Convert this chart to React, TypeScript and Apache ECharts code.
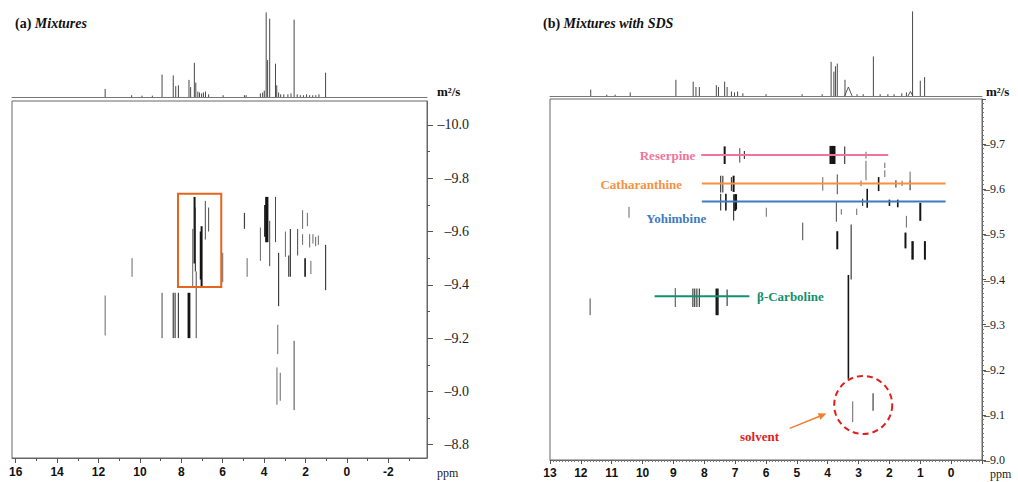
import { useEffect, useRef } from "react";
import * as echarts from "echarts";

const SERIF = '"Liberation Serif", "Times New Roman", serif';
const SANS = '"Liberation Sans", Arial, sans-serif';

// ---- 1H projections: [ppm, relative intensity] ----
const specA: [number, number][] = [
  [11.68, 9], [10.4, 2], [9.9, 1.5], [9.4, 1.5], [8.93, 25], [8.39, 24], [8.27, 12], [8.14, 13],
  [7.63, 19], [7.55, 11], [7.37, 38], [7.3, 16], [7.2, 6], [7.12, 5], [7.02, 4], [6.93, 5],
  [6.83, 6], [6.68, 3], [5.98, 2], [4.95, 2], [4.87, 2], [4.18, 4], [4.07, 5], [3.99, 7],
  [3.9, 94], [3.83, 41], [3.73, 87], [3.45, 37], [3.39, 13], [3.3, 5], [3.2, 3], [3.05, 3],
  [2.85, 3], [2.7, 4], [2.55, 86], [2.4, 3], [2.25, 2], [2.1, 2], [1.95, 3], [1.8, 2],
  [1.65, 2], [1.5, 2], [1.35, 3], [1.03, 27],
];
const specB: [number, number][] = [
  [11.68, 7], [10.4, 4], [11.16, 1.5], [10.89, 1.5], [8.92, 18], [8.36, 16], [8.27, 10], [8.16, 10],
  [7.61, 12], [7.54, 10], [7.34, 16], [7.26, 10], [7.12, 5], [7.02, 4], [6.92, 5], [6.75, 3],
  [6.0, 2], [4.83, 2], [4.18, 2], [3.89, 38], [3.8, 27], [3.75, 33], [3.69, 36], [3.44, 18],
  [3.05, 2], [2.85, 2], [2.52, 44], [2.3, 2], [2.05, 2], [1.85, 2], [1.6, 3], [1.45, 4],
  [1.25, 94], [1.0, 17], [0.86, 21],
];
// broad humps: [ppm, height, half width in ppm]
const humpsB: [number, number, number][] = [[3.33, 10, 0.12], [1.32, 5, 0.08]];

// ---- DOSY cross peaks: [ppm, logD from, logD to, line weight] ----
const dosyA: [number, number, number, number][] = [
  [11.68, -9.36, -9.21, 1], [10.38, -9.5, -9.43, 1], [8.93, -9.37, -9.2, 1.2],
  [8.39, -9.37, -9.2, 1.5], [8.3, -9.37, -9.2, 1.5], [8.14, -9.37, -9.2, 1.5],
  [7.66, -9.37, -9.2, 2], [7.6, -9.37, -9.2, 2], [7.28, -9.45, -9.2, 1.2],
  [7.45, -9.61, -9.39, 1], [7.36, -9.73, -9.48, 2.5], [7.32, -9.69, -9.45, 1.5],
  [7.07, -9.6, -9.42, 2], [7.02, -9.62, -9.39, 2.5], [6.84, -9.715, -9.57, 1.2],
  [6.68, -9.69, -9.6, 1.2], [6.0, -9.52, -9.41, 1], [4.95, -9.67, -9.61, 1.5],
  [4.82, -9.5, -9.43, 1], [4.18, -9.615, -9.49, 1], [3.96, -9.7, -9.58, 2],
  [3.9, -9.73, -9.56, 2.5], [3.84, -9.73, -9.56, 2.5], [3.73, -9.64, -9.47, 1.2],
  [3.45, -9.73, -9.56, 1.2], [3.3, -9.52, -9.32, 1.5], [3.34, -9.25, -9.14, 1],
  [3.38, -9.09, -8.95, 1], [3.22, -9.07, -8.965, 1], [2.55, -9.19, -8.93, 1.2],
  [2.97, -9.6, -9.505, 1], [2.81, -9.51, -9.43, 1.5], [2.73, -9.61, -9.43, 1.5],
  [2.38, -9.61, -9.51, 1.2], [2.14, -9.68, -9.61, 1], [2.14, -9.59, -9.55, 1],
  [2.02, -9.5, -9.43, 2], [1.91, -9.67, -9.62, 1], [1.8, -9.59, -9.54, 1],
  [1.74, -9.49, -9.44, 1], [1.64, -9.59, -9.555, 1], [1.51, -9.58, -9.545, 1],
  [1.38, -9.585, -9.55, 1], [1.03, -9.55, -9.38, 1.5],
];
const dosyB: [number, number, number, number][] = [
  [11.7, -9.358, -9.321, 1.2], [10.44, -9.561, -9.537, 1],
  [8.94, -9.381, -9.339, 1.2], [8.37, -9.38, -9.339, 1.5], [8.31, -9.38, -9.339, 1.5],
  [8.24, -9.38, -9.339, 1.5], [8.16, -9.38, -9.339, 1.5], [7.61, -9.38, -9.321, 2],
  [7.56, -9.38, -9.321, 2], [7.26, -9.378, -9.341, 1.5],
  [7.34, -9.695, -9.656, 2.5], [6.85, -9.691, -9.659, 1.2], [6.7, -9.685, -9.667, 1.5],
  [3.91, -9.696, -9.656, 2.5], [3.86, -9.696, -9.656, 2.5], [3.82, -9.696, -9.656, 2.5],
  [3.78, -9.696, -9.656, 2.5], [3.45, -9.695, -9.656, 1.5], [2.76, -9.683, -9.668, 1],
  [2.76, -9.663, -9.62, 1], [2.15, -9.659, -9.647, 1], [2.15, -9.642, -9.627, 1],
  [1.33, -9.639, -9.62, 1],
  [7.47, -9.63, -9.593, 1.5], [7.4, -9.63, -9.593, 1.5], [7.12, -9.627, -9.596, 1.5],
  [7.05, -9.63, -9.594, 2.5], [4.16, -9.627, -9.597, 1], [3.69, -9.633, -9.589, 1.2],
  [2.92, -9.619, -9.607, 1], [2.35, -9.627, -9.596, 2], [1.79, -9.62, -9.604, 1.5],
  [1.59, -9.619, -9.607, 1], [1.33, -9.62, -9.598, 1.5],
  [7.47, -9.59, -9.553, 1.5], [7.3, -9.59, -9.553, 2], [7.05, -9.589, -9.531, 1.5],
  [7.0, -9.589, -9.552, 2.5], [6.97, -9.589, -9.555, 2.5], [5.99, -9.559, -9.539, 1],
  [3.72, -9.573, -9.528, 1.2], [3.56, -9.556, -9.544, 1], [3.06, -9.557, -9.543, 1],
  [2.87, -9.579, -9.563, 1.5], [2.72, -9.601, -9.559, 2], [2.0, -9.577, -9.563, 2],
  [1.73, -9.577, -9.56, 2], [1.0, -9.57, -9.53, 2.5],
  [4.81, -9.526, -9.487, 1.2], [1.45, -9.541, -9.515, 1], [3.69, -9.507, -9.467, 2.5],
  [1.48, -9.504, -9.469, 2.5], [1.25, -9.485, -9.444, 3], [0.85, -9.485, -9.444, 2.5],
  [3.24, -9.522, -9.4, 1.5], [3.33, -9.41, -9.18, 2],
  [3.19, -9.13, -9.084, 1], [2.53, -9.148, -9.109, 1.5],
];

// ---- axis ticks ----
const ticksAX = [16, 14, 12, 10, 8, 6, 4, 2, 0, -2];
const minorAX = [15, 13, 11, 9, 7, 5, 3, 1, -1, -3];
const ticksAY = [-10.0, -9.8, -9.6, -9.4, -9.2, -9.0, -8.8];
const minorAY = [-9.9, -9.7, -9.5, -9.3, -9.1, -8.9];
const labelsBX = [13, 12, 11, 10, 9, 8, 7, 6, 5, 4, 3, 2, 1, 0];
const labelsBY = [-9.7, -9.6, -9.5, -9.4, -9.3, -9.2, -9.1, -9.0];

// ---- compound assignments (right panel) ----
const compounds = [
  { name: "Reserpine", logD: -9.676, from: 8.1, to: 2.04, color: "#f0749c", lx: 8.29, ly: -9.674, align: "right" },
  { name: "Catharanthine", logD: -9.613, from: 8.08, to: 0.18, color: "#f7913f", lx: 8.72, ly: -9.611, align: "right" },
  { name: "Yohimbine", logD: -9.573, from: 8.08, to: 0.18, color: "#3f7bbf", lx: 8.91, ly: -9.536, align: "center" },
  { name: "β-Carboline", logD: -9.363, from: 9.61, to: 6.54, color: "#13906e", lx: 6.29, ly: -9.362, align: "left" },
];

// solvent annotation: circle centre, label, arrow
const solventCircle: [number, number] = [2.85, -9.122];
const solventLabel: [number, number] = [6.21, -9.053];
const solventArrow: [number, number, number, number] = [5.23, -9.07, 4.04, -9.103];

// highlighted region on left panel
const boxA: [number, number, number, number] = [8.16, -9.742, 6.07, -9.392];

const dashFmt = (v: number) => (Number(v) < 0 ? "\u2013" : "") + Math.abs(Number(v)).toFixed(1);

function segSeries(data: number[][], xi: number, yi: number) {
  return {
    type: "custom",
    xAxisIndex: xi,
    yAxisIndex: yi,
    silent: true,
    data,
    renderItem: (_p: any, api: any) => {
      const a = api.coord([api.value(0), api.value(1)]);
      const b = api.coord([api.value(0), api.value(2)]);
      const w = api.value(3);
      return {
        type: "line",
        shape: { x1: a[0], y1: a[1], x2: b[0], y2: b[1] },
        style: { stroke: w >= 2 ? "#151515" : "#404040", lineWidth: w * 0.8, lineCap: "butt" },
      };
    },
  };
}

function stickSeries(data: number[][], xi: number, yi: number) {
  return {
    type: "custom",
    xAxisIndex: xi,
    yAxisIndex: yi,
    silent: true,
    data,
    renderItem: (_p: any, api: any) => {
      const a = api.coord([api.value(0), 0]);
      const b = api.coord([api.value(0), api.value(1)]);
      return {
        type: "line",
        shape: { x1: a[0], y1: a[1], x2: b[0], y2: b[1] },
        style: { stroke: "#333", lineWidth: 0.9 },
      };
    },
  };
}

function humpSeries(data: number[][], xi: number, yi: number) {
  return {
    type: "custom",
    xAxisIndex: xi,
    yAxisIndex: yi,
    silent: true,
    data,
    renderItem: (_p: any, api: any) => {
      const p = api.value(0), h = api.value(1), w = api.value(2);
      const l = api.coord([p + w, 0]);
      const m = api.coord([p, h]);
      const r = api.coord([p - w, 0]);
      return {
        type: "polyline",
        shape: { points: [l, m, r] },
        style: { stroke: "#444", lineWidth: 0.9, fill: "none" },
      };
    },
  };
}

export default function App() {
  const ref = useRef<HTMLDivElement>(null);

  useEffect(() => {
    if (!ref.current) return;
    const chart = echarts.init(ref.current, undefined, { renderer: "svg" });

    const gridBase = { show: false, outerBoundsMode: "none", containLabel: false };
    const hiddenAxis = { show: false, onZero: false };
    const option: any = {
      animation: false,
      backgroundColor: "#fff",
      grid: [
        { ...gridBase, left: 12, top: 7, width: 415, height: 90 },
        { ...gridBase, show: true, borderColor: "#666", borderWidth: 1, left: 12, top: 101, width: 415, height: 357 },
        { ...gridBase, left: 550, top: 6, width: 432, height: 90 },
        { ...gridBase, show: true, borderColor: "#666", borderWidth: 1, left: 550, top: 99, width: 432, height: 361 },
      ],
      xAxis: [
        {
          gridIndex: 0, type: "value", inverse: true, min: -3.87, max: 16.18,
          axisLine: { show: true, onZero: false, lineStyle: { color: "#777", width: 1 } },
          axisTick: { show: false }, axisLabel: { show: false }, splitLine: { show: false },
        },
        {
          gridIndex: 1, type: "value", inverse: true, min: -3.87, max: 16.18, position: "bottom",
          axisLine: { show: true, onZero: false, lineStyle: { color: "#666" } },
          axisTick: { show: true, customValues: ticksAX, length: 5, lineStyle: { color: "#555" } },
          axisLabel: {
            customValues: ticksAX, margin: 8, fontFamily: SANS, fontWeight: "bold", fontSize: 12, color: "#111",
            formatter: (v: number) => String(v),
          },
          splitLine: { show: false },
        },
        {
          gridIndex: 1, type: "value", inverse: true, min: -3.87, max: 16.18, position: "bottom",
          axisLine: hiddenAxis,
          axisTick: { show: true, customValues: minorAX, length: 3, lineStyle: { color: "#555" } },
          axisLabel: { show: false }, splitLine: { show: false },
        },
        {
          gridIndex: 2, type: "value", inverse: true, min: -1, max: 13,
          axisLine: { show: true, onZero: false, lineStyle: { color: "#777", width: 1 } },
          axisTick: { show: false }, axisLabel: { show: false }, splitLine: { show: false },
        },
        {
          gridIndex: 3, type: "value", inverse: true, min: -1, max: 13, interval: 1, position: "bottom",
          axisLine: { show: true, onZero: false, lineStyle: { color: "#666" } },
          axisTick: { show: true, length: 4, lineStyle: { color: "#555" } },
          minorTick: { show: true, splitNumber: 10, length: 2, lineStyle: { color: "#777" } },
          axisLabel: {
            customValues: labelsBX, margin: 7, fontFamily: SANS, fontWeight: "bold", fontSize: 12, color: "#111",
            formatter: (v: number) => String(Math.round(v)),
          },
          splitLine: { show: false },
        },
      ],
      yAxis: [
        { gridIndex: 0, type: "value", min: 0, max: 100, show: false },
        {
          gridIndex: 1, type: "value", inverse: true, min: -10.09, max: -8.75, position: "right",
          axisLine: { show: true, onZero: false, lineStyle: { color: "#666" } },
          axisTick: { show: true, customValues: ticksAY, length: 6, lineStyle: { color: "#555" } },
          axisLabel: {
            customValues: ticksAY, margin: 42, align: "right", fontFamily: SERIF, fontSize: 14, color: "#222",
            formatter: dashFmt,
          },
          splitLine: { show: false },
        },
        {
          gridIndex: 1, type: "value", inverse: true, min: -10.09, max: -8.75, position: "right",
          axisLine: hiddenAxis,
          axisTick: { show: true, customValues: minorAY, length: 3, lineStyle: { color: "#555" } },
          axisLabel: { show: false }, splitLine: { show: false },
        },
        { gridIndex: 2, type: "value", min: 0, max: 100, show: false },
        {
          gridIndex: 3, type: "value", inverse: true, min: -9.8, max: -9.0, interval: 0.1, position: "right",
          axisLine: { show: true, onZero: false, lineStyle: { color: "#666" } },
          axisTick: { show: true, length: 4, lineStyle: { color: "#555" } },
          minorTick: { show: true, splitNumber: 10, length: 2, lineStyle: { color: "#777" } },
          axisLabel: {
            customValues: labelsBY, margin: 2, align: "left", fontFamily: SERIF, fontSize: 12, color: "#222",
            formatter: dashFmt,
          },
          splitLine: { show: false },
        },
      ],
      series: [
        stickSeries(specA, 0, 0),
        stickSeries(specB, 3, 3),
        humpSeries(humpsB, 3, 3),
        segSeries(dosyA, 1, 1),
        segSeries(dosyB, 4, 4),
        {
          type: "custom", xAxisIndex: 1, yAxisIndex: 1, silent: true, data: [boxA],
          renderItem: (_p: any, api: any) => {
            const a = api.coord([api.value(0), api.value(1)]);
            const b = api.coord([api.value(2), api.value(3)]);
            return {
              type: "rect",
              shape: { x: a[0], y: a[1], width: b[0] - a[0], height: b[1] - a[1] },
              style: { stroke: "#e3661c", lineWidth: 2, fill: "none" },
            };
          },
        },
        {
          type: "custom", xAxisIndex: 4, yAxisIndex: 4, silent: true,
          data: compounds.map((c) => [c.from, c.to, c.logD, c.lx, c.ly]),
          renderItem: (p: any, api: any) => {
            const c = compounds[p.dataIndex];
            const a = api.coord([api.value(0), api.value(2)]);
            const b = api.coord([api.value(1), api.value(2)]);
            const t = api.coord([api.value(3), api.value(4)]);
            return {
              type: "group",
              children: [
                { type: "line", shape: { x1: a[0], y1: a[1], x2: b[0], y2: b[1] }, style: { stroke: c.color, lineWidth: 2 } },
                {
                  type: "text", x: t[0], y: t[1],
                  style: {
                    text: c.name, fill: c.color, font: `bold 13px ${SERIF}`,
                    align: c.align, verticalAlign: "middle",
                  },
                },
              ],
            };
          },
        },
        {
          type: "custom", xAxisIndex: 4, yAxisIndex: 4, silent: true,
          data: [[...solventCircle, ...solventLabel, ...solventArrow]],
          renderItem: (_p: any, api: any) => {
            const c = api.coord([api.value(0), api.value(1)]);
            const t = api.coord([api.value(2), api.value(3)]);
            const f = api.coord([api.value(4), api.value(5)]);
            const e = api.coord([api.value(6), api.value(7)]);
            const ang = Math.atan2(e[1] - f[1], e[0] - f[0]);
            const hl = 8, hw = 3.5;
            const bx = e[0] - hl * Math.cos(ang), by = e[1] - hl * Math.sin(ang);
            const nx = -Math.sin(ang) * hw, ny = Math.cos(ang) * hw;
            return {
              type: "group",
              children: [
                {
                  type: "circle", shape: { cx: c[0], cy: c[1], r: 29 },
                  style: { stroke: "#e0201c", lineWidth: 2, fill: "none", lineDash: [6, 4] },
                },
                { type: "line", shape: { x1: f[0], y1: f[1], x2: bx, y2: by }, style: { stroke: "#f07f30", lineWidth: 1.5 } },
                {
                  type: "polygon",
                  shape: { points: [[e[0], e[1]], [bx + nx, by + ny], [bx - nx, by - ny]] },
                  style: { fill: "#f07f30" },
                },
                {
                  type: "text", x: t[0], y: t[1],
                  style: { text: "solvent", fill: "#e0201c", font: `bold 13px ${SERIF}`, align: "center", verticalAlign: "middle" },
                },
              ],
            };
          },
        },
      ],
      graphic: [
        {
          type: "text", left: 15, top: 16,
          style: {
            text: "{a|(a) }{b|Mixtures}",
            rich: {
              a: { font: `bold 14px ${SERIF}`, fill: "#111" },
              b: { font: `italic bold 14px ${SERIF}`, fill: "#111" },
            },
          },
        },
        {
          type: "text", left: 543, top: 16,
          style: {
            text: "{a|(b) }{b|Mixtures with SDS}",
            rich: {
              a: { font: `bold 14px ${SERIF}`, fill: "#111" },
              b: { font: `italic bold 14px ${SERIF}`, fill: "#111" },
            },
          },
        },
        { type: "text", left: 437, top: 85, style: { text: "m\u00b2/s", font: `bold 13px ${SERIF}`, fill: "#111" } },
        { type: "text", left: 986, top: 85, style: { text: "m\u00b2/s", font: `bold 13px ${SERIF}`, fill: "#111" } },
        { type: "text", left: 437, top: 467, style: { text: "ppm", font: `12px ${SERIF}`, fill: "#222" } },
        { type: "text", left: 990, top: 468, style: { text: "ppm", font: `12px ${SERIF}`, fill: "#222" } },
      ],
    };

    chart.setOption(option);
    return () => chart.dispose();
  }, []);

  return (
    <div
      ref={ref}
      style={{ position: "fixed", left: 0, top: 0, width: 1018, height: 482, background: "#fff" }}
    />
  );
}
